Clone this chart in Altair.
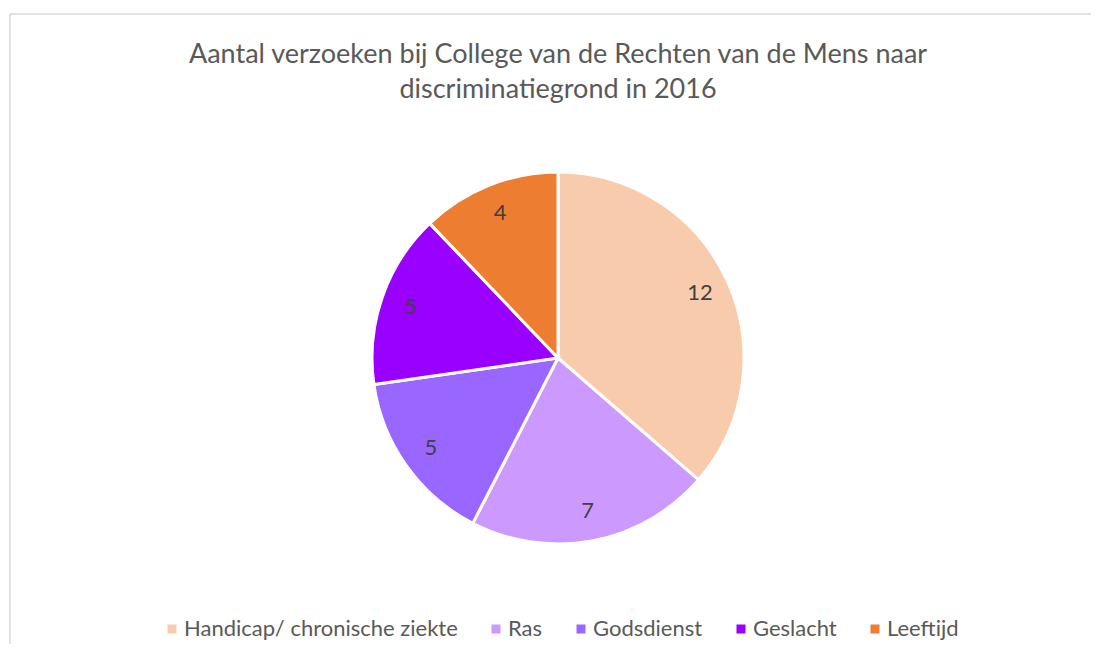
import altair as alt
import pandas as pd

categories = ["Handicap/ chronische ziekte", "Ras", "Godsdienst", "Geslacht", "Leeftijd"]
values = [12, 7, 5, 5, 4]
colors = ["#F8CBAD", "#CC99FF", "#9966FF", "#9900FF", "#ED7D31"]
title_lines = ["Aantal verzoeken bij College van de Rechten van de Mens naar",
               "discriminatiegrond in 2016"]

FONT = "Lato"
W, H = 1083, 636
CX, CY, R = 550, 350, 186

df = pd.DataFrame({"cat": categories, "val": values, "idx": list(range(len(values)))})

color = alt.Color(
    "cat:N",
    scale=alt.Scale(domain=categories, range=colors),
    sort=categories,
    legend=alt.Legend(
        orient="none", legendX=153, legendY=610, direction="horizontal",
        title=None, symbolType="square", symbolSize=81, symbolStrokeWidth=0,
        labelFont=FONT, labelFontSize=22, labelColor="#595959",
        labelOffset=1, columnPadding=27, labelLimit=400,
    ),
)

base = alt.Chart(df)
one = pd.DataFrame({"a": [0]})

border_top = alt.Chart(one).mark_rule(color="#D9D9D9", strokeWidth=1.5).encode(
    x=alt.value(2), x2=alt.value(1300), y=alt.value(6)
)
border_left = alt.Chart(one).mark_rule(color="#D9D9D9", strokeWidth=1.5).encode(
    x=alt.value(2), y=alt.value(6), y2=alt.value(900)
)

pie = base.mark_arc(stroke="white", strokeWidth=3, radius=R).encode(
    theta=alt.Theta("val:Q", stack=True),
    color=color,
    order=alt.Order("idx:Q"),
    x=alt.value(CX), y=alt.value(CY),
)

labels = base.mark_text(
    radius=156, font=FONT, fontSize=22, color="#404040"
).encode(
    theta=alt.Theta("val:Q", stack=True),
    order=alt.Order("idx:Q"),
    text="val:Q",
    x=alt.value(CX), y=alt.value(CY),
)

tdf = pd.DataFrame({"t": title_lines, "line": [0, 1]})
title = alt.Chart(tdf).mark_text(
    font=FONT, fontSize=27, color="#595959", baseline="alphabetic", align="center"
).encode(
    text="t:N",
    x=alt.value(CX),
    y=alt.Y("line:Q", scale=alt.Scale(domain=[0, 1], range=[55, 90]), axis=None),
)

chart = alt.layer(border_top, border_left, pie, labels, title).properties(
    width=W, height=H, padding=0,
    autosize=alt.AutoSizeParams(type="none"),
).configure_view(stroke=None)

chart.save("out.html", embed_options={"renderer": "svg", "actions": False})
